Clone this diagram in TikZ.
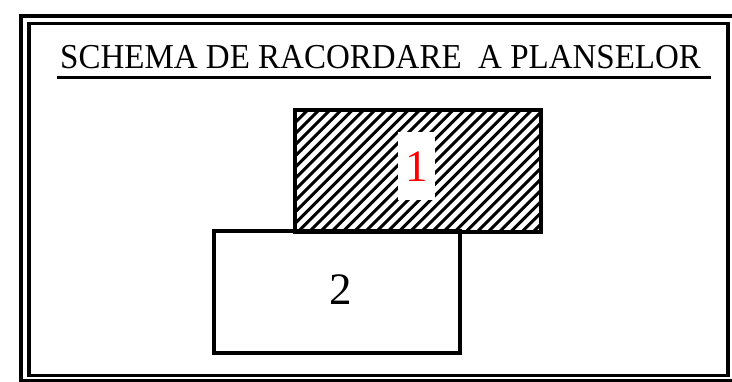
\documentclass[tikz,border=0pt]{standalone}
\usepackage{fontspec}
\setmainfont{Liberation Serif}
\begin{document}
\begin{tikzpicture}[x=1pt,y=-1pt,
  outerframe/.style={draw, line width=4pt},
  innerframe/.style={draw, line width=3.5pt},
  sheet/.style={draw, line width=4pt, minimum width=246pt, minimum height=122pt, inner sep=0pt, outer sep=0pt},
  hatchline/.style={line width=3pt},
  num/.style={font=\fontsize{45}{50}\selectfont, inner sep=0pt},
  titletext/.style={font=\fontsize{33}{40}\selectfont, inner sep=0pt}]
\useasboundingbox (0,0) rectangle (732,382);
\clip (0,0) rectangle (732,382);
% frames
\draw[outerframe] (21,16) rectangle (735,381.5);
\draw[innerframe] (29,23.5) rectangle (728,375.5);
% title
\node[titletext, anchor=base west] (title) at (60,68.5) {\scalebox{1}[1.06]{SCHEMA DE RACORDARE\ \ A PLANSELOR}};
\coordinate (ulstart) at (57,77.5);
\coordinate (ulend) at (711,77.5);
\draw[line width=3pt] (ulstart) -- (ulend);
% sheet 1 (hatched)
\node[sheet] (r1) at (418,171) {};
\begin{scope}
  \clip (r1.south west) rectangle (r1.north east);
  \foreach \k in {-27,...,11}
    \draw[hatchline] ({675.3+11.2*\k-240},240) -- ({675.3+11.2*\k-100},100);
\end{scope}
\draw[line width=4pt] (r1.south west) rectangle (r1.north east);
\node[fill=white, minimum width=37pt, minimum height=68pt, inner sep=0pt] (clear) at (416.5,166) {};
\node[num, text=red, anchor=base] (n1) at (417,182) {1};
% sheet 2
\node[sheet] (r2) at (337.25,292.25) {};
\node[num, anchor=base] (n2) at (341,305) {2};
\end{tikzpicture}
\end{document}
